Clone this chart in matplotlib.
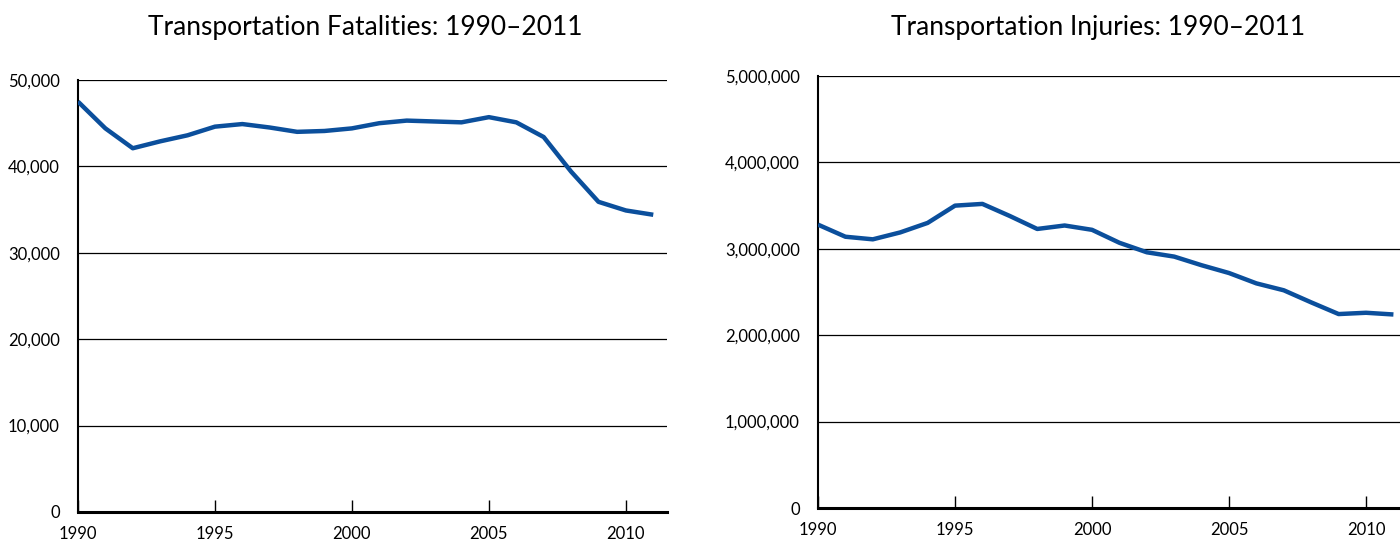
import matplotlib.pyplot as plt
from matplotlib.ticker import FuncFormatter

plt.rcParams['font.family'] = ['Lato', 'DejaVu Sans']

years = list(range(1990, 2012))
fatalities = [47500, 44400, 42100, 42900, 43600, 44600, 44900, 44500, 44000, 44100,
              44400, 45000, 45300, 45200, 45100, 45700, 45100, 43400, 39400, 35900,
              34900, 34400]
injuries = [3280000, 3140000, 3110000, 3190000, 3300000, 3500000, 3520000, 3380000,
            3230000, 3270000, 3220000, 3070000, 2960000, 2910000, 2810000, 2720000,
            2600000, 2520000, 2380000, 2245000, 2260000, 2240000]
titles = ["Transportation Fatalities: 1990\u20132011", "Transportation Injuries: 1990\u20132011"]
year_ticks = [1990, 1995, 2000, 2005, 2010]

fig = plt.figure(figsize=(14, 5.42), dpi=100)
ax1 = fig.add_axes([0.0557, 0.0554, 0.4207, 0.797])
ax2 = fig.add_axes([0.5843, 0.0627, 0.4157, 0.797])

line_color = '#0b4f9c'
fmt = FuncFormatter(lambda v, p: f"{int(v):,}")

for ax, vals, ymax, xmax in [(ax1, fatalities, 50000, 2011.5),
                             (ax2, injuries, 5000000, 2011.24)]:
    ax.plot(years, vals, color=line_color, lw=3.2, solid_capstyle='butt', zorder=3)
    ax.set_xlim(1990, xmax)
    ax.set_ylim(0, ymax)
    ax.set_yticks([ymax * i / 5 for i in range(6)])
    ax.yaxis.set_major_formatter(fmt)
    ax.set_xticks(year_ticks)
    ax.grid(axis='y', color='black', lw=0.9)
    ax.set_axisbelow(True)
    for s in ['top', 'right']:
        ax.spines[s].set_visible(False)
    ax.spines['left'].set_linewidth(1.5)
    ax.spines['bottom'].set_linewidth(2.2)
    ax.tick_params(axis='x', direction='in', length=9, width=1, pad=10, labelsize=12)
    ax.tick_params(axis='y', length=0, pad=13, labelsize=12)

# titles sit at the same height above both panels
fig.text(365 / 1400, 1 - 27 / 542, titles[0], fontsize=19, ha='center', va='center')
fig.text(1098 / 1400, 1 - 27 / 542, titles[1], fontsize=19, ha='center', va='center')

fig.savefig('out.png', dpi=100)
